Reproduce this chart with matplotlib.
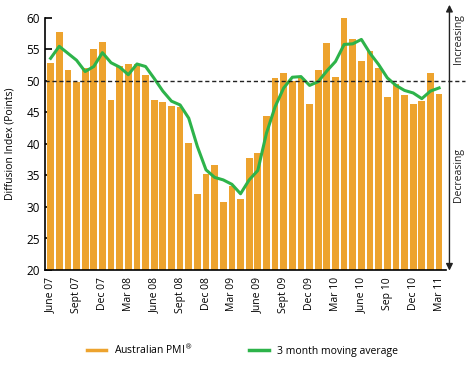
import numpy as np
import matplotlib
matplotlib.use('Agg')
import matplotlib.pyplot as plt
from matplotlib.lines import Line2D

plt.rcParams['font.family'] = ['Open Sans', 'DejaVu Sans']

# monthly data, June 07 .. Mar 11
pmi = [52.9, 57.8, 51.8, 49.9, 52.1, 55.1, 56.2, 47.0, 52.4, 52.7,
       52.7, 51.0, 47.0, 46.7, 46.1, 45.8, 40.2, 32.0, 35.3, 36.6,
       30.8, 33.4, 31.2, 37.7, 38.5, 44.5, 50.5, 51.2, 50.0, 50.4,
       46.4, 51.8, 56.1, 50.7, 60.0, 56.6, 53.1, 54.7, 52.0, 47.5,
       49.6, 47.7, 46.4, 46.9, 51.3, 48.0]
avg3 = [53.6, 55.5, 54.4, 53.3, 51.5, 52.3, 54.5, 52.9, 52.2, 51.0,
        52.7, 52.3, 50.4, 48.4, 46.8, 46.2, 44.1, 39.6, 35.9, 34.7,
        34.3, 33.6, 32.1, 34.3, 35.8, 41.7, 45.9, 48.9, 50.6, 50.7,
        49.3, 49.9, 51.6, 53.1, 55.8, 55.9, 56.6, 54.4, 52.6, 50.5,
        49.3, 48.5, 48.1, 47.2, 48.4, 48.9]
tick_labels = ['June 07', 'Sept 07', 'Dec 07', 'Mar 08', 'June 08', 'Sept 08',
               'Dec 08', 'Mar 09', 'June 09', 'Sept 09', 'Dec 09', 'Mar 10',
               'June 10', 'Sep 10', 'Dec 10', 'Mar 11']

orange = '#EDA32E'
green = '#2DB34A'
dark = '#222222'

x = np.arange(len(pmi))

fig = plt.figure(figsize=(4.7, 3.65), dpi=100)
ax = fig.add_axes([45/470, 1-270/365, 401/470, 252/365])

ax.bar(x, pmi, width=0.78, color=orange, zorder=2)
ax.plot(x, avg3, color=green, lw=2.2, zorder=3)

ax.set_ylim(20, 60)
ax.set_xlim(-0.65, 45.8)
ax.set_yticks(range(20, 61, 5))
ax.set_xticks(x[::3])
ax.set_xticklabels(tick_labels, rotation=90, fontsize=7.5)
ax.tick_params(axis='y', direction='in', length=5, labelsize=8.5, width=1.2)
ax.tick_params(axis='x', length=0, pad=5)
ax.set_ylabel('Diffusion Index (Points)', fontsize=7.5, labelpad=8)

for s in ['top', 'right']:
    ax.spines[s].set_visible(False)
ax.spines['left'].set_linewidth(1.2)
ax.spines['bottom'].set_linewidth(1.2)

# 50 line extending beyond the plot
ax.plot([-0.65, 48.0], [50, 50], ls='--', color=dark, lw=1.0,
        clip_on=False, zorder=4, dashes=(3, 2))

# increasing / decreasing arrow
ax.annotate('', xy=(46.2, 62.1), xytext=(46.2, 19.9),
            arrowprops=dict(arrowstyle='<|-|>', color=dark, lw=1.0,
                            mutation_scale=10, shrinkA=0, shrinkB=0),
            annotation_clip=False)
ax.text(47.3, 56.6, 'Increasing', rotation=90, fontsize=7.5,
        ha='center', va='center', color=dark, clip_on=False)
ax.text(47.3, 35.0, 'Decreasing', rotation=90, fontsize=7.5,
        ha='center', va='center', color=dark, clip_on=False)

handles = [Line2D([], [], color=orange, lw=2.5),
           Line2D([], [], color=green, lw=2.5)]
fig.legend(handles, ['Australian PMI$^{\u00ae}$', '3 month moving average'],
           loc='center', bbox_to_anchor=(0.515, 1-350/365), ncol=2,
           frameon=False, fontsize=7.5, handlelength=1.9, handletextpad=0.7,
           columnspacing=5.5)

fig.savefig('out.png', dpi=100)
